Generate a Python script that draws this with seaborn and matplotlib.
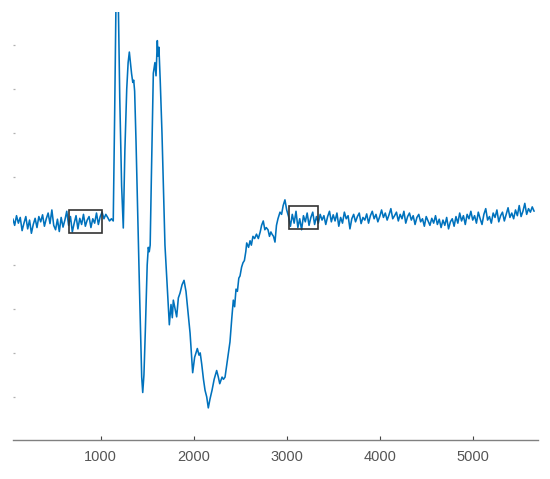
import numpy as np
import pandas as pd
import matplotlib
matplotlib.use("Agg")
import matplotlib.pyplot as plt
import seaborn as sns
from matplotlib.patches import Rectangle

# ---------------- data ----------------
# pre-event baseline samples, x = 55, 75, ... 1115
pre_start, pre_step = 55, 20
pre_y = [0.05, -0.10, 0.12, -0.05, 0.08, -0.22, -0.05, 0.10, -0.18, 0.02,
         -0.28, -0.08, 0.06, -0.15, 0.10, -0.02, 0.14, -0.12, 0.05, 0.18,
         -0.06, 0.25, -0.10, -0.20, 0.04, -0.24, 0.08, -0.14, 0.02, 0.22,
         -0.10, 0.10, -0.25, -0.05, 0.12, -0.18, 0.06, -0.08, 0.15, -0.12,
         0.02, 0.10, -0.15, 0.05, -0.05, 0.18, -0.08, 0.10, 0.20, 0.05,
         0.15, 0.08, 0.0, 0.05]

# event section
ev_x = [1135, 1150, 1164, 1177, 1190, 1205, 1225, 1243, 1260, 1280,
        1295, 1308, 1320, 1332, 1345, 1355, 1365, 1380, 1400, 1420,
        1441, 1452, 1465, 1480, 1500, 1512, 1522, 1532, 1545, 1566,
        1583, 1595, 1609, 1616, 1626, 1640, 1659, 1675, 1691, 1710,
        1738, 1756, 1770, 1781, 1800, 1817, 1835, 1853, 1875, 1896,
        1917, 1940, 1961, 1989, 2010, 2039, 2057, 2070, 2086, 2105,
        2122, 2140, 2157, 2175, 2197, 2220, 2247, 2265, 2280, 2305,
        2320, 2337, 2360, 2390, 2410, 2426, 2440, 2455, 2470, 2485,
        2498, 2515, 2530, 2545, 2560, 2570, 2590, 2606, 2620, 2637,
        2655, 2675, 2695, 2715, 2730, 2748, 2765, 2780, 2799, 2815,
        2830, 2842, 2858, 2874, 2890, 2906, 2928, 2945, 2962, 2981,
        3000]
ev_y = [0.0, 2.4, 4.9, 5.6, 4.9, 2.8, 0.8, -0.16, 1.6, 3.0,
        3.6, 3.84, 3.6, 3.35, 3.15, 3.2, 2.95, 1.8, 0.0, -1.8,
        -3.55, -3.9, -3.5, -2.5, -1.0, -0.6, -0.7, -0.55, 1.0, 3.36,
        3.6, 3.3, 4.1, 3.75, 3.95, 3.2, 2.0, 0.7, -0.55, -1.3,
        -2.36, -1.9, -2.2, -1.8, -2.0, -2.18, -1.75, -1.64, -1.45, -1.35,
        -1.6, -2.1, -2.55, -3.45, -3.1, -2.9, -3.05, -3.0, -3.25, -3.6,
        -3.85, -4.0, -4.25, -4.05, -3.85, -3.6, -3.4, -3.55, -3.7, -3.55,
        -3.6, -3.55, -3.2, -2.75, -2.2, -1.8, -1.95, -1.55, -1.6, -1.3,
        -1.25, -1.05, -0.95, -0.9, -0.7, -0.5, -0.6, -0.45, -0.55, -0.35,
        -0.4, -0.3, -0.4, -0.25, -0.1, 0.0, -0.2, -0.15, -0.2, -0.35,
        -0.25, -0.3, -0.35, -0.48, -0.1, 0.05, 0.2, 0.15, 0.35, 0.48,
        0.25]

# post-event baseline samples, x = 3020, 3040, ... 5660
post_start, post_step = 3020, 20
post_y = [0.10, -0.12, 0.15, -0.05, 0.22, -0.15, 0.05, -0.20, 0.12, -0.02,
          0.18, -0.10, 0.08, 0.20, -0.08, 0.10, -0.05, 0.15, 0.02, 0.12,
          -0.08, 0.10, 0.22, -0.02, 0.14, 0.0, 0.18, -0.12, 0.08, -0.05,
          0.20, 0.05, 0.12, -0.18, 0.05, 0.15, -0.02, 0.10, 0.18, -0.06,
          0.08, 0.02, 0.16, -0.05, 0.12, 0.22, 0.05, 0.15, -0.02, 0.10,
          0.25, 0.08, 0.18, 0.02, 0.14, 0.28, 0.05, 0.12, 0.20, 0.0,
          0.15, 0.05, 0.22, -0.05, 0.10, 0.18, 0.02, 0.12, -0.08, 0.08,
          0.15, -0.02, 0.05, -0.12, 0.10, 0.0, -0.10, 0.06, -0.05, 0.12,
          -0.08, 0.04, -0.15, 0.02, -0.10, 0.08, -0.18, -0.02, 0.05, -0.12,
          0.10, -0.05, 0.18, 0.0, 0.12, -0.08, 0.15, 0.05, 0.22, 0.02,
          0.12, -0.05, 0.20, 0.05, -0.08, 0.15, 0.28, 0.02, 0.10, -0.05,
          0.18, 0.08, 0.25, -0.02, 0.12, 0.20, 0.0, 0.15, 0.30, 0.08,
          0.18, 0.05, 0.25, 0.12, 0.35, 0.10, 0.22, 0.40, 0.15, 0.28,
          0.20, 0.32, 0.22]

# highlight boxes: [x0, x1, y0, y1]
box1 = [660, 1010, -0.27, 0.25]
box2 = [3025, 3340, -0.19, 0.35]

x_ticks = [1000, 2000, 3000, 4000, 5000]
y_ticks = [-4, -3, -2, -1, 0, 1, 2, 3, 4]
x_lim = [54, 5705]
y_lim = [-4.98, 4.75]

# ---------------- build table ----------------
assert len(ev_x) == len(ev_y)
pre_x = [pre_start + pre_step * i for i in range(len(pre_y))]
post_x = [post_start + post_step * i for i in range(len(post_y))]
df = pd.DataFrame({"x": pre_x + ev_x + post_x,
                   "y": pre_y + ev_y + post_y})

# ---------------- plot ----------------
sns.set_style("white")
plt.rcParams["font.family"] = ["Liberation Sans", "DejaVu Sans"]

fig = plt.figure(figsize=(5.5, 4.79), dpi=100)
ax = fig.add_axes([0.0231, 0.0814, 0.9556, 0.8935])

sns.lineplot(data=df, x="x", y="y", ax=ax, color="#0072BD",
             linewidth=1.15, estimator=None, sort=False)

for b in (box1, box2):
    ax.add_patch(Rectangle((b[0], b[2]), b[1] - b[0], b[3] - b[2],
                           fill=False, edgecolor="#333333", linewidth=1.2,
                           zorder=3))

ax.set_xlim(*x_lim)
ax.set_ylim(*y_lim)
ax.set_xticks(x_ticks)
ax.set_xticklabels([str(t) for t in x_ticks])
ax.set_yticks(y_ticks)
ax.set_xlabel("")
ax.set_ylabel("")

for s in ("top", "right", "left"):
    ax.spines[s].set_visible(False)
ax.spines["bottom"].set_color("#808080")
ax.spines["bottom"].set_linewidth(1.0)

ax.tick_params(axis="x", bottom=True, direction="in", length=3, width=0.8,
               color="#444444", labelsize=10.5, labelcolor="#555555", pad=7)
ax.tick_params(axis="y", left=True, direction="in", length=1.2, width=0.9,
               color="#b0b0b0", labelleft=False)

fig.savefig("out.png", dpi=100)
